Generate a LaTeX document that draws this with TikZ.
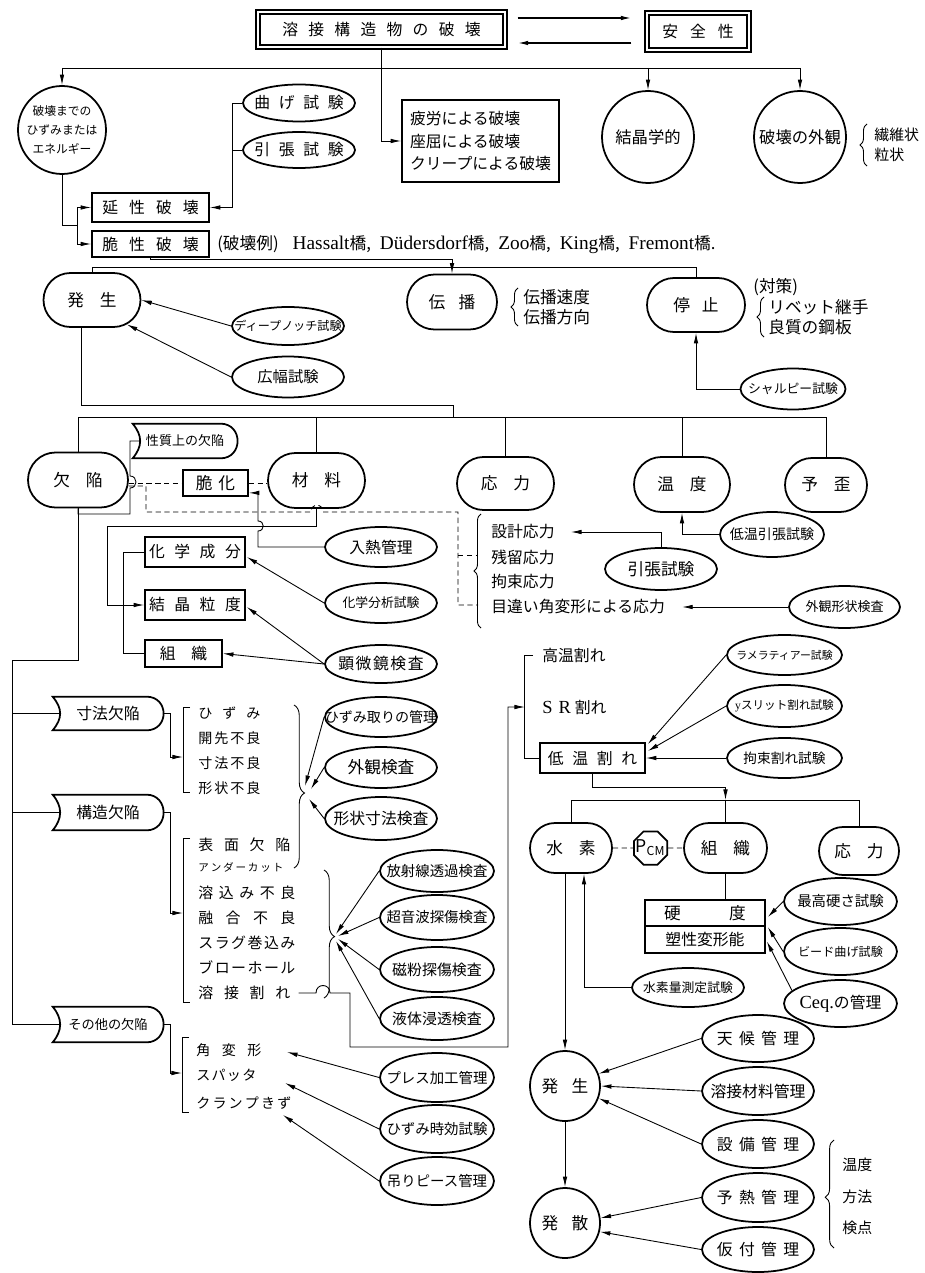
\documentclass[tikz,border=0pt]{standalone}
\usepackage{fontspec}
\setmainfont{Noto Sans CJK JP}
\newfontfamily\lat{Liberation Serif}
\usetikzlibrary{shapes.geometric,shapes.misc,arrows.meta,calc,decorations.pathreplacing}
\newdimen\px \px=0.02cm
\makeatletter
\newcommand\spr[2]{\def\spr@sep{\hspace{#1}}\spr@a#2\@nil}
\def\spr@a#1#2\@nil{#1\ifx\relax#2\relax\else\spr@sep\spr@a#2\@nil\fi}
\makeatother
\newcommand\z[1]{\makebox[0pt]{#1}}
\newcommand\jus[2]{\makebox[#1][s]{\spr{\fill}{#2}}}
\newcommand\lt[1]{{\lat\fontsize{11}{11}\selectfont #1}}
\newcommand\tagout[1]{\draw[shp] (#1.north west) .. controls +(10,12) and +(10,-12) .. (#1.south west) -- ($(#1.south east)+(-17,0)$) .. controls +(23,0) and +(23,0) .. ($(#1.north east)+(-17,0)$) -- cycle;}
\tikzset{
  shp/.style={draw,line width=1pt},
  sz/.style 2 args={minimum width=#1*0.02cm,minimum height=#2*0.02cm},
  fz/.style={font=\fontsize{#1}{#1}\selectfont},
  ell/.style={shp,ellipse,inner sep=0pt},
  stad/.style={shp,rounded rectangle,inner sep=0pt},
  boxn/.style={shp,rectangle,inner sep=0pt},
  tagn/.style={rectangle,inner sep=0pt},
  circ/.style={shp,circle,inner sep=0pt},
  row/.style={anchor=west,inner sep=0pt},
  lnk/.style={line width=0.5pt},
  arr/.style={lnk,-{Latex[length=6pt,width=2.6pt]}},
  dsh/.style={lnk,dash pattern=on 3pt off 2pt},
  brc/.style={lnk,decorate,decoration={brace,amplitude=4pt}}
}
\begin{document}
\begin{tikzpicture}[x=0.02cm,y=-0.02cm]
\fill[white] (0,0) rectangle (924,1273);
\useasboundingbox (0,0) rectangle (924,1273);
% top row
\node[boxn,double,double distance=1.6pt,line width=0.7pt,sz={247}{35},fz=9] (title) at (381.5,29.5) {\z{\spr{0.65em}{溶接構造物の破壊}}};
\node[boxn,double,double distance=1.6pt,line width=0.7pt,sz={102}{37},fz=9] (safety) at (698,31.5) {\z{\spr{0.75em}{安全性}}};
\draw[arr,line width=0.8pt] ($(title.east)+(12,-11.5)$) -- ($(safety.west)+(-15,-13.5)$);
\draw[arr,line width=0.8pt] ($(safety.west)+(-15,11.5)$) -- ($(title.east)+(12,13.5)$);
\node[circ,minimum size=88*0.02cm,align=center,font=\fontsize{6.7}{11}\selectfont] (energy) at (62,130) {破壊までの\\ひずみまたは\\エネルギー};
\node[boxn,sz={157}{82},align=left,font=\fontsize{9}{13}\selectfont] (fatigue) at (480.5,141) {疲労による破壊\\座屈による破壊\\クリープによる破壊};
\node[circ,minimum size=92*0.02cm,fz=9.3] (cryst) at (648,137) {結晶学的};
\node[circ,minimum size=92*0.02cm,fz=9.3] (appear) at (800,137) {破壊の外観};
\draw[brc] (867,166) -- (867,124);
\node[row,fz=8.5] (fib) at (874,135) {繊維状};
\node[row,fz=8.5] (gran) at (874,155) {粒状};
\coordinate (tb) at (0,68);
\draw[lnk] (energy.north |- tb) -- (appear.north |- tb);
\draw[arr] (energy.north |- tb) -- (energy.north);
\draw[arr] (cryst.north |- tb) -- (cryst.north);
\draw[arr] (appear.north |- tb) -- (appear.north);
\draw[arr] (title.south) |- (fatigue.west);
% ductile / brittle
\node[ell,sz={112}{37},fz=9] (bend) at (299,103) {\z{\spr{0.55em}{曲げ試験}}};
\node[ell,sz={112}{36},fz=9] (tens) at (299,150) {\z{\spr{0.55em}{引張試験}}};
\node[boxn,sz={117}{29},fz=9] (ductile) at (150.5,207.5) {\z{\spr{0.7em}{延性破壊}}};
\node[boxn,sz={117}{26},fz=9] (brittle) at (150.5,244) {\z{\spr{0.7em}{脆性破壊}}};
\node[row,fz=9.5] (ex) at (217,245) {(破壊例)\hspace{14\px}\lt{Hassalt}橋,\hspace{9\px}\lt{Düdersdorf}橋,\hspace{9\px}\lt{Zoo}橋,\hspace{9\px}\lt{King}橋,\hspace{9\px}\lt{Fremont}橋.};
\coordinate (dj) at ($(ductile.east)+(23,0)$);
\draw[arr] (bend.west) -| (dj) -- (ductile.east);
\draw[lnk] (tens.west) -- (tens.west -| dj);
\coordinate (ej) at (77,225);
\draw[lnk] (energy.south) |- (ej);
\draw[arr] (ej) |- (ductile.west);
\draw[arr] (ej) |- (brittle.west);
% initiation / propagation / arrest
\node[stad,sz={97}{54},fz=9.5] (init) at (92,300) {\z{\spr{0.95em}{発生}}};
\node[stad,sz={90}{55},fz=9.5] (prop) at (452,302) {\z{\spr{0.8em}{伝播}}};
\node[stad,sz={98}{54},fz=9.5] (arrest) at (696,305) {\z{\spr{0.7em}{停止}}};
\draw[brc] (518,326) -- (518,288);
\node[row,fz=9.5] (pv) at (523,297) {伝播速度};
\node[row,fz=9.5] (pd) at (523,317) {伝播方向};
\node[row,fz=9.5] (meas) at (753,287) {(対策)};
\draw[brc] (764,337) -- (764,297);
\node[row,fz=9.5] (riv) at (768,307) {リベット継手};
\node[row,fz=9.5] (plate) at (768,327) {良質の鋼板};
\node[ell,sz={112}{38},fz=6.9] (deep) at (288,326) {\z{ディープノッチ試験}};
\node[ell,sz={112}{41},fz=8.7] (wide) at (288,377) {\z{広幅試験}};
\node[ell,sz={105}{41},fz=7.3] (charpy) at (793,389) {\z{シャルピー試験}};
\draw[arr] (brittle.south) |- ($(prop.north)+(0,-14)$) -- (prop.north);
\draw[lnk] (init.north) |- ($(arrest.north)+(0,-10)$) -- (arrest.north);
\draw[arr] (deep.west) -- (init.east);
\draw[arr] (wide.west) -- (init.-35);
\draw[arr] (charpy.west) -| (arrest.south);
% factors
\node[stad,sz={100}{55},fz=9.5] (defect) at (78,480) {\z{\spr{0.95em}{欠陥}}};
\node[tagn,sz={104}{34},fz=7.4] (qual) at (185,441) {\z{性質上の欠陥}};
\tagout{qual}
\node[boxn,sz={65}{26},fz=9.5] (embr) at (215.5,483) {\z{\spr{0.35em}{脆化}}};
\node[stad,sz={97}{55},fz=9.5] (mat) at (316.5,480.5) {\z{\spr{0.95em}{材料}}};
\node[stad,sz={97}{53},fz=9.5] (stress) at (505.5,483.5) {\z{\spr{0.95em}{応力}}};
\node[stad,sz={96}{55},fz=9.5] (temp) at (682,484.5) {\z{\spr{0.95em}{温度}}};
\node[stad,sz={82}{54},fz=9.5] (prestr) at (826,485) {\z{\spr{0.95em}{予歪}}};
\coordinate (ib) at (453,405);
\coordinate (mb) at (0,417);
\draw[lnk] ($(init.south)+(-11,0)$) |- (ib) -- (ib |- mb);
\draw[lnk] (defect.north) |- (prestr.north |- mb) -- (prestr.north);
\draw[lnk] (mat.north) -- (mat.north |- mb);
\draw[lnk] (stress.north) -- (stress.north |- mb);
\draw[lnk] (temp.north) -- (temp.north |- mb);
\draw[dsh] (defect.east |- embr.west) -- (embr.west);
\draw[dsh] (embr.east) -- (embr.east -| mat.west);
\draw[dsh] ($(defect.east)+(0,6)$) -| (146,512) -- (311,512) .. controls +(0,-9) and +(0,-9) .. (323,512) -- (458,512) |- (478,605);
\draw[dsh] (458,555) -- (478,555);
\draw[lnk] (defect.south) |- (130,514) -- (130,488) .. controls +(8,0) and +(8,0) .. (130,476) |- ($(qual.west)+(7.5,0)$);
% material
\node[boxn,sz={100}{30},fz=9] (chem) at (195,552) {\z{\spr{0.6em}{化学成分}}};
\node[boxn,sz={100}{30},fz=9] (grain) at (195,605) {\z{\spr{0.6em}{結晶粒度}}};
\node[boxn,sz={77}{27},fz=9] (struct) at (183.5,653.5) {\z{\spr{1em}{組織}}};
\node[ell,sz={112}{40},fz=9] (heat) at (381,547) {\z{入熱管理}};
\node[ell,sz={112}{40},fz=7.3] (chemtest) at (381,603) {\z{化学分析試験}};
\node[ell,sz={112}{38},fz=9] (micro) at (381,664) {\z{\spr{0.1em}{顕微鏡検査}}};
\draw[arr] (mat.south) |- (107,526) |- (grain.west);
\draw[arr] (heat.west) -| (258,531) .. controls +(7,0) and +(7,0) .. (258,521) |- ($(embr.south east)+(0,-4)$);
\draw[lnk] (chem.west) -| ($(struct.west)+(-21,0)$) -- (struct.west);
\draw[arr] (chemtest.west) -- ($(chem.east)+(1,5)$);
\draw[arr] (micro.west) -- ($(grain.east)+(1,2)$);
\draw[arr] (micro.west) -- (struct.east);
% stress and temperature
\node[row,fz=9] (s1) at (491,532) {設計応力};
\node[row,fz=9] (s2) at (491,557) {残留応力};
\node[row,fz=9] (s3) at (491,582) {拘束応力};
\node[row,fz=9] (s4) at (491,607) {目違い角変形による応力};
\draw[brc] (481,628) -- (481,514);
\node[ell,sz={112}{42},fz=9.5] (tens2) at (661,569) {\z{引張試験}};
\node[ell,sz={104}{45},fz=8] (lowtens) at (772,534.5) {\z{低温引張試験}};
\node[ell,sz={111}{42},fz=7.4] (visshape) at (844.5,607) {\z{外観形状検査}};
\draw[arr] (tens2.north) |- ($(s1.east)+(16,0)$);
\draw[arr] (lowtens.west) -| (temp.south);
\draw[arr] (visshape.west) -- ($(s4.east)+(17,0)$);
% kinds of defects
\node[tagn,sz={110}{33},fz=9] (dimdef) at (108,713.5) {\z{寸法欠陥}};
\tagout{dimdef}
\node[tagn,sz={110}{35},fz=9] (strdef) at (108,812.5) {\z{構造欠陥}};
\tagout{strdef}
\node[tagn,sz={110}{35},fz=7.5] (othdef) at (108,1024.5) {\z{その他の欠陥}};
\tagout{othdef}
\coordinate (lv) at (12,660);
\draw[lnk] (defect.south) |- (lv) |- ($(othdef.west)+(7.5,0)$);
\draw[lnk] (lv |- dimdef.west) -- ($(dimdef.west)+(7.5,0)$);
\draw[lnk] (lv |- strdef.west) -- ($(strdef.west)+(7.5,0)$);
\node[row,fz=8] (d1) at (198,713) {\jus{62\px}{ひずみ}};
\node[row,fz=8] (d2) at (198,738) {\jus{62\px}{開先不良}};
\node[row,fz=8] (d3) at (198,763) {\jus{62\px}{寸法不良}};
\node[row,fz=8] (d4) at (198,788) {\jus{62\px}{形状不良}};
\node[row,fz=8.5] (w1) at (198,845) {\jus{92\px}{表面欠陥}};
\node[row,fz=6] (w2) at (198,867) {\jus{85\px}{アンダーカット}};
\node[row,fz=8.5] (w3) at (198,893) {\jus{97\px}{溶込み不良}};
\node[row,fz=8.5] (w4) at (198,918) {\jus{97\px}{融合不良}};
\node[row,fz=8.5] (w5) at (198,943) {\jus{97\px}{スラグ巻込み}};
\node[row,fz=8.5] (w6) at (198,967) {\jus{97\px}{ブローホール}};
\node[row,fz=8.5] (w7) at (198,993) {\jus{92\px}{溶接割れ}};
\node[row,fz=8] (o1) at (196,1050) {\jus{65\px}{角変形}};
\node[row,fz=8] (o2) at (196,1075) {\jus{60\px}{スパッタ}};
\node[row,fz=8] (o3) at (196,1103) {\jus{95\px}{クランプきず}};
\draw[lnk] (190,707) -| (183,792) -- (190,792);
\draw[lnk] (190,838) -| (183,1002) -- (190,1002);
\draw[lnk] (189,1037) -| (182,1112) -- (189,1112);
\coordinate (dbr) at (183,757);
\coordinate (sbr) at (183,913);
\coordinate (obr) at (182,1073);
\draw[arr] (dimdef.east) -| ($(dbr)+(-13,0)$) -- (dbr);
\draw[arr] (strdef.east) -| ($(sbr)+(-13,0)$) -- (sbr);
\draw[arr] (othdef.east) -| ($(obr)+(-12,0)$) -- (obr);
% inspections
\node[ell,sz={112}{40},fz=8] (strain) at (381,717) {\z{ひずみ取りの管理}};
\node[ell,sz={112}{41},fz=9.5] (visual) at (381,767.5) {\z{外観検査}};
\node[ell,sz={112}{43},fz=9] (shapedim) at (381,818.5) {\z{形状寸法検査}};
\draw[brc,decoration={aspect=0.54,amplitude=6pt}] (294,705) -- (294,868);
\coordinate (bt1) at (306,793);
\draw[arr] (strain.west) -- ($(bt1)+(-1,-7)$);
\draw[arr] (visual.west) -- ($(bt1)+(5,-4)$);
\draw[arr] (shapedim.west) -- ($(bt1)+(3,6)$);
\node[ell,sz={114}{42},fz=8.2] (rad) at (437,871) {\z{放射線透過検査}};
\node[ell,sz={114}{45},fz=8.2] (ultra) at (437,917.5) {\z{超音波探傷検査}};
\node[ell,sz={114}{45},fz=8.5] (mag) at (437,969.5) {\z{磁粉探傷検査}};
\node[ell,sz={114}{43},fz=8.5] (pen) at (437,1018.5) {\z{液体浸透検査}};
\draw[brc,decoration={aspect=0.52,amplitude=6pt}] (324,870) -- (324,998);
\coordinate (bt2) at (336,937);
\draw[arr] (rad.west) -- ($(bt2)+(0,-3)$);
\draw[arr] (ultra.west) -- ($(bt2)+(2,-1)$);
\draw[arr] (mag.west) -- ($(bt2)+(2,2)$);
\draw[arr] (pen.west) -- ($(bt2)+(0,4)$);
\node[ell,sz={114}{49},fz=8.2] (press) at (437,1077.5) {\z{プレス加工管理}};
\node[ell,sz={114}{48},fz=8.2] (ageing) at (437,1129) {\z{ひずみ時効試験}};
\node[ell,sz={114}{48},fz=8.2] (lift) at (437,1181) {\z{吊りピース管理}};
\draw[arr] (press.west) -- ($(o1.west)+(91,2)$);
\draw[arr] (ageing.west) -- ($(o2.west)+(89,8)$);
\draw[arr] (lift.west) -- ($(o3.west)+(87,12)$);
% weld cracks
\node[row,fz=9] (hotcr) at (542,655) {高温割れ};
\node[row] (srcr) at (542,707) {{\lat\fontsize{10.5}{10.5}\selectfont S\hspace{6\px}R}\hspace{4\px}{\fontsize{9}{9}\selectfont 割れ}};
\node[boxn,sz={105}{30},fz=9] (coldcr) at (592.5,758) {\z{\spr{0.55em}{低温割れ}}};
\node[ell,sz={115}{40},fz=6.2] (lamel) at (784.5,655) {\z{ラメラティアー試験}};
\node[ell,sz={115}{42},fz=6.6] (yslit) at (784.5,706) {\z{{\lat y}スリット割れ試験}};
\node[ell,sz={115}{40},fz=7.8] (restr) at (784.5,758) {\z{拘束割れ試験}};
\coordinate (srj) at (525,707);
\draw[arr] ($(w7.east)+(8,0)$) -- (316,993) .. controls +(0,-10) and +(0,-10) .. (330,993) -| (350,1047) -| ($(srj)+(-17,0)$) -- (srj);
\draw[lnk] ($(hotcr.west)+(-9,0)$) -| ($(coldcr.west)+(-15,0)$) -- (coldcr.west);
\draw[arr] (lamel.west) -- ($(coldcr.north east)+(2,2)$);
\draw[arr] (yslit.west) -- ($(coldcr.east)+(2,-7)$);
\draw[arr] (restr.west) -- (coldcr.east);
% cold cracking
\node[stad,sz={82}{50},fz=9.5] (hydro) at (571,848) {\z{\spr{0.95em}{水素}}};
\node[shp,regular polygon,regular polygon sides=8,minimum size=36*0.02cm,inner sep=0pt] (pcm) at (650.5,848) {\z{$\mathrm{P_{CM}}$}};
\node[stad,sz={83}{50},fz=9.5] (struc2) at (725.5,848) {\z{\spr{0.95em}{組織}}};
\node[stad,sz={80}{48},fz=9.5] (stress2) at (859,851) {\z{\spr{0.95em}{応力}}};
\coordinate (lb) at (0,800);
\draw[arr] (coldcr.south) |- ($(struc2.north |- lb)+(0,-13)$) -- (struc2.north |- lb);
\draw[lnk] (hydro.north) |- (stress2.north |- lb) -- (stress2.north);
\draw[lnk] (struc2.north) -- (struc2.north |- lb);
\draw[dsh] (hydro.east) -- (pcm.west);
\draw[dsh] (pcm.east) -- (struc2.west);
\node[boxn,sz={120}{26},fz=9.5] (hardA) at (705,913) {\z{\spr{2.9em}{硬度}}};
\node[boxn,sz={120}{27},fz=9] (hardB) at (705,939.5) {\z{塑性変形能}};
\draw[lnk] (struc2.south) -- (struc2.south |- hardA.north);
\node[ell,sz={113}{47},fz=8.2] (maxhard) at (840.5,901.5) {\z{最高硬さ試験}};
\node[ell,sz={113}{47},fz=6.9] (bead) at (840.5,951.5) {\z{ビード曲げ試験}};
\node[ell,sz={113}{47},fz=9] (ceq) at (840.5,1003.5) {\z{{\lat\fontsize{10.5}{10.5}\selectfont Ceq.}の管理}};
\draw[arr] (maxhard.west) -- ($(hardA.east)+(2,4)$);
\draw[arr] (bead.west) -- ($(hardB.north east)+(2,2)$);
\draw[arr] (ceq.165) -- ($(hardB.east)+(1,2)$);
\node[ell,sz={112}{39},fz=7.3] (hydtest) at (688,987.5) {\z{水素量測定試験}};
\draw[arr] (hydtest.west) -| ($(hydro.south)+(13,0)$);
% occurrence / diffusion
\node[circ,minimum size=70*0.02cm,fz=9.5] (occ) at (565,1086) {\z{\spr{0.8em}{発生}}};
\node[circ,minimum size=70*0.02cm,fz=9.5] (diff) at (565,1223) {\z{\spr{0.8em}{発散}}};
\draw[arr] ($(hydro.south)+(-6,0)$) -- (occ.north);
\draw[arr] (occ.south) -- (diff.north);
\node[ell,sz={112}{47},fz=9] (weather) at (758,1038.5) {\z{\spr{0.4em}{天候管理}}};
\node[ell,sz={112}{48},fz=9] (wmat) at (758,1091) {\z{溶接材料管理}};
\node[ell,sz={112}{48},fz=9] (equip) at (758,1144) {\z{\spr{0.4em}{設備管理}}};
\node[ell,sz={112}{49},fz=9] (preheat) at (758,1197.5) {\z{\spr{0.4em}{予熱管理}}};
\node[ell,sz={112}{45},fz=9] (tack) at (758,1249.5) {\z{\spr{0.4em}{仮付管理}}};
\draw[arr] (weather.west) -- (occ.20);
\draw[arr] (wmat.west) -- (occ.east);
\draw[arr] (equip.west) -- (occ.-20);
\draw[arr] (preheat.west) -- (diff.8);
\draw[arr] (tack.west) -- (diff.-14);
\draw[brc,decoration={aspect=0.47,amplitude=5pt}] (834,1248) -- (834,1140);
\node[row,fz=8.5] (ph1) at (842,1165) {温度};
\node[row,fz=8.5] (ph2) at (842,1197) {方法};
\node[row,fz=8.5] (ph3) at (842,1228) {検点};
\end{tikzpicture}
\end{document}
